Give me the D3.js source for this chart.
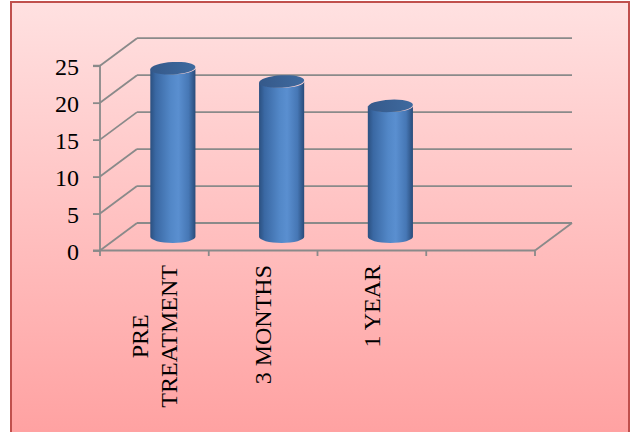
<!DOCTYPE html>
<html>
<head>
<meta charset="utf-8">
<script src="https://cdn.jsdelivr.net/npm/d3@7/dist/d3.min.js"></script>
<style>
  html, body { margin: 0; padding: 0; background: #ffffff; }
  svg { display: block; }
</style>
</head>
<body>
<svg id="chart" width="633" height="432"></svg>
<script>
// ---- data ----
const categories = ["PRE TREATMENT", "3 MONTHS", "1 YEAR", ""];
const labelLines = [["PRE", "TREATMENT"], ["3 MONTHS"], ["1 YEAR"], []];
const values = [22.8, 21.0, 17.7, null];
const yTicks = [0, 5, 10, 15, 20, 25];

// ---- layout ----
const W = 633, H = 432;
const svg = d3.select("#chart");
const defs = svg.append("defs");

const bg = defs.append("linearGradient").attr("id", "bg")
  .attr("x1", 0).attr("y1", 0).attr("x2", 0).attr("y2", 1);
bg.append("stop").attr("offset", "0%").attr("stop-color", "#ffe1e1");
bg.append("stop").attr("offset", "100%").attr("stop-color", "#ffa0a0");

const side = defs.append("linearGradient").attr("id", "side")
  .attr("x1", 0).attr("y1", 0).attr("x2", 1).attr("y2", 0);
[["0%", "#2b5080"], ["12%", "#3a68a3"], ["45%", "#5287c7"], ["62%", "#5a8fd0"], ["85%", "#4677b5"], ["100%", "#294b79"]]
  .forEach(([o, c]) => side.append("stop").attr("offset", o).attr("stop-color", c));

const topG = defs.append("linearGradient").attr("id", "topg")
  .attr("x1", 0).attr("y1", 0).attr("x2", 1).attr("y2", 0);
topG.append("stop").attr("offset", "0%").attr("stop-color", "#35598a");
topG.append("stop").attr("offset", "100%").attr("stop-color", "#3f6a9f");

// chart area background + border
svg.append("rect").attr("x", 11).attr("y", 2).attr("width", 618).attr("height", H + 10)
  .attr("fill", "url(#bg)").attr("stroke", "#c0504d").attr("stroke-width", 2);

const x = d3.scaleBand().domain(categories).range([100, 535]).paddingInner(0).paddingOuter(0);
const y = d3.scaleLinear().domain([0, 25]).range([250.5, 65.7]);
const DX = 37, DY = -27.5;  // depth offset
const gridColor = "#8a8a8a";

const grid = svg.append("g").attr("fill", "none").attr("stroke", gridColor).attr("stroke-width", 1.8);

// back wall horizontal gridlines + side wall diagonals
yTicks.forEach(t => {
  grid.append("line")
    .attr("x1", x.range()[0] + DX).attr("x2", x.range()[1] + DX)
    .attr("y1", y(t) + DY).attr("y2", y(t) + DY);
  grid.append("line")
    .attr("x1", x.range()[0]).attr("y1", y(t))
    .attr("x2", x.range()[0] + DX).attr("y2", y(t) + DY);
});
// floor front edge and right diagonal
grid.append("line").attr("x1", x.range()[0]).attr("x2", x.range()[1])
  .attr("y1", y(0)).attr("y2", y(0));
grid.append("line").attr("x1", x.range()[1]).attr("y1", y(0))
  .attr("x2", x.range()[1] + DX).attr("y2", y(0) + DY);

// category ticks
const edges = categories.map(c => x(c)).concat([x.range()[1]]);
edges.forEach(e => {
  grid.append("line").attr("x1", e).attr("x2", e).attr("y1", y(0)).attr("y2", y(0) + 5.5);
});

// y axis
const yAxis = d3.axisLeft(y).tickValues(yTicks).tickSize(7).tickPadding(14).tickFormat(d3.format("d"));
const ya = svg.append("g").attr("transform", `translate(${x.range()[0]},0)`).call(yAxis);
ya.select(".domain").attr("stroke", gridColor).attr("stroke-width", 1.8)
  .attr("d", `M-7,${y(25)}H0V${y(0)}H-7`);
ya.selectAll(".tick line").attr("stroke", gridColor).attr("stroke-width", 1.8);
ya.selectAll(".tick text").attr("fill", "#000").attr("font-family", "'Liberation Serif', 'Times New Roman', serif")
  .attr("font-size", 24).attr("dy", "0.36em");

// cylinders
const bw = x.bandwidth() * 0.415;
const rx = bw / 2, ry = 6.2;
const bars = svg.append("g");
categories.forEach((c, i) => {
  const v = values[i];
  if (v == null) return;
  const cx = x(c) + x.bandwidth() / 2 + DX / 2;
  const yb = y(0) + DY / 2;
  const yt = y(v) + DY / 2;
  const path = `M${cx - rx},${yt} L${cx - rx},${yb} A${rx},${ry} 0 0 0 ${cx + rx},${yb} L${cx + rx},${yt} A${rx},${ry} 0 0 1 ${cx - rx},${yt} Z`;
  bars.append("path").attr("d", path).attr("fill", "url(#side)");
  bars.append("ellipse").attr("cx", cx).attr("cy", yt).attr("rx", rx).attr("ry", ry)
    .attr("fill", "url(#topg)").attr("transform", `rotate(-3 ${cx} ${yt})`);
});

// category labels (rotated)
const fs = 24, lh = 29;
const lab = svg.append("g").attr("font-family", "'Liberation Serif', 'Times New Roman', serif")
  .attr("font-size", fs).attr("fill", "#000");
categories.forEach((c, i) => {
  const lines = labelLines[i];
  if (!lines.length) return;
  const cx = x(c) + x.bandwidth() / 2;
  const n = lines.length;
  const g = lab.append("g");
  const texts = lines.map(l => g.append("text").text(l).attr("text-anchor", "middle"));
  const widths = texts.map(t => t.node().getComputedTextLength());
  const maxW = d3.max(widths);
  const topY = 265;
  const midY = topY + maxW / 2;
  texts.forEach((t, k) => {
    const off = (k - (n - 1) / 2) * lh;
    const bx = cx + off + fs * 0.33;
    t.attr("transform", `translate(${bx},${midY}) rotate(-90)`);
  });
});
</script>
</body>
</html>
